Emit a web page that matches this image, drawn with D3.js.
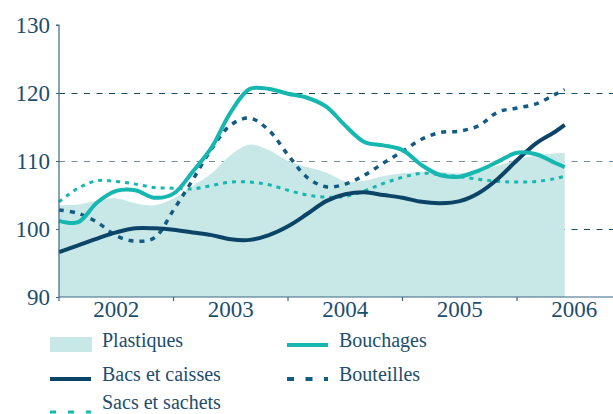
<!DOCTYPE html>
<html>
<head>
<meta charset="utf-8">
<script src="https://cdn.jsdelivr.net/npm/d3@7"></script>
<style>
  body { margin: 0; background: #fff; }
  text { font-family: "Liberation Serif", serif; fill: #1d4e6e; }
</style>
</head>
<body>
<div id="chart"></div>
<script>
const width = 613;
const height = 414;

// months since January 2002 (every two months, last point May 2006)
const months = [0, 2, 4, 6, 8, 10, 12, 14, 16, 18, 20, 22, 24, 26, 28, 30, 32, 34, 36, 38, 40, 42, 44, 46, 48, 50, 52, 53];

const plastiques = [103.5, 103.6, 104.2, 104.5, 103.8, 103.5, 104.5, 106.3, 108.2, 110.9, 112.4, 111.6, 110.0, 109.1,
  108.3, 107.0, 107.1, 107.8, 108.2, 108.4, 108.4, 108.2, 108.7, 109.3, 110.2, 110.8, 111.1, 111.2];
const bouchages = [101.2, 101.0, 103.9, 105.6, 105.7, 104.6, 105.2, 108.4, 112.0, 117.2, 120.6, 120.6, 119.9, 119.3,
  118.0, 115.2, 112.8, 112.3, 111.6, 109.4, 107.9, 107.7, 108.6, 109.9, 111.2, 111.0, 109.7, 109.1];
const bacs = [96.6, 97.6, 98.6, 99.5, 100.1, 100.1, 99.9, 99.5, 99.1, 98.5, 98.4, 99.1, 100.4, 102.2,
  104.1, 105.1, 105.4, 105.0, 104.6, 104.0, 103.8, 104.1, 105.3, 107.4, 110.1, 112.6, 114.3, 115.3];
const bouteilles = [102.8, 102.3, 101.0, 99.0, 98.2, 98.7, 102.8, 107.2, 111.8, 115.3, 116.3, 114.5, 110.9, 107.6,
  106.2, 106.6, 107.9, 109.7, 111.4, 113.2, 114.2, 114.4, 115.2, 117.2, 117.8, 118.4, 119.8, 120.5];
const sacs = [104.0, 106.0, 107.1, 107.0, 106.6, 106.1, 106.0, 105.9, 106.4, 106.9, 106.9, 106.5, 105.7, 105.0,
  104.7, 104.8, 105.6, 106.7, 107.6, 108.2, 108.0, 107.7, 107.3, 107.0, 106.9, 107.0, 107.4, 107.8];

const years = ["2002", "2003", "2004", "2005", "2006"];
const yTicks = [90, 100, 110, 120, 130];
const gridValues = [100, 110, 120];

const teal = "#16b6b1";
const navy = "#0c4468";
const blue = "#145b84";
const areaColor = "#c8e8e7";
const axisColor = "#3a6782";

const svg = d3.select("#chart").append("svg")
  .attr("width", width)
  .attr("height", height);

const x = d3.scaleLinear().domain([0, 60]).range([59, 631.5]);
const y = d3.scaleLinear().domain([90, 130]).range([297, 25]);
const axisRight = 613;

// grid lines (under the area)
svg.selectAll("line.grid")
  .data(gridValues)
  .enter()
  .append("line")
  .attr("class", "grid")
  .attr("x1", x(0))
  .attr("x2", axisRight)
  .attr("y1", d => Math.round(y(d)) + 0.5)
  .attr("y2", d => Math.round(y(d)) + 0.5)
  .attr("stroke", d => d === 110 ? "#6f8ea2" : "#174a6b")
  .attr("stroke-width", 1)
  .attr("stroke-dasharray", "6,6.5");

// Plastiques area
const area = d3.area()
  .x((d, i) => x(months[i]))
  .y0(y(90))
  .y1(d => y(d))
  .curve(d3.curveCatmullRom.alpha(0.5));

svg.append("path")
  .datum(plastiques)
  .attr("d", area)
  .attr("fill", areaColor);

const line = d3.line()
  .x((d, i) => x(months[i]))
  .y(d => y(d))
  .curve(d3.curveCatmullRom.alpha(0.5));

const series = [
  { name: "Sacs et sachets", values: sacs, color: teal, width: 3, dash: "4,5" },
  { name: "Bouteilles", values: bouteilles, color: blue, width: 3.5, dash: "5,6" },
  { name: "Bacs et caisses", values: bacs, color: navy, width: 4, dash: null },
  { name: "Bouchages", values: bouchages, color: teal, width: 4, dash: null }
];

series.forEach(s => {
  svg.append("path")
    .datum(s.values)
    .attr("d", line)
    .attr("fill", "none")
    .attr("stroke", s.color)
    .attr("stroke-width", s.width)
    .attr("stroke-dasharray", s.dash);
});

// axes
const yAxis = d3.axisLeft(y).tickValues(yTicks).tickSize(3).tickFormat(d3.format("d"));
const gy = svg.append("g").attr("transform", `translate(${x(0)},0)`).call(yAxis);
gy.select(".domain").attr("stroke", axisColor).attr("stroke-width", 1.2).attr("d", `M-3,${y(130)}H0V${y(90)}`);
gy.selectAll(".tick line").attr("stroke", axisColor);
gy.selectAll(".tick text")
  .attr("x", -9)
  .attr("dy", "0.33em")
  .style("font-family", "'Liberation Serif', serif")
  .style("font-size", "23px")
  .attr("fill", "#1d4e6e");

const gx = svg.append("g").attr("transform", `translate(0,${y(90)})`);
gx.append("line")
  .attr("x1", x(0))
  .attr("x2", axisRight)
  .attr("stroke", axisColor)
  .attr("stroke-width", 1.2);
gx.selectAll("line.tick")
  .data(years)
  .enter()
  .append("line")
  .attr("class", "tick")
  .attr("x1", (d, i) => x(i * 12))
  .attr("x2", (d, i) => x(i * 12))
  .attr("y1", 0)
  .attr("y2", 4)
  .attr("stroke", axisColor)
  .attr("stroke-width", 1.2);
gx.selectAll("text")
  .data(years)
  .enter()
  .append("text")
  .attr("x", (d, i) => x(i * 12 + 6))
  .attr("y", 20)
  .attr("text-anchor", "middle")
  .style("font-size", "23px")
  .text(d => d);

// legend
const legend = [
  { name: "Plastiques", type: "area", col: 0, row: 0 },
  { name: "Bouchages", color: teal, width: 4, dash: null, col: 1, row: 0 },
  { name: "Bacs et caisses", color: navy, width: 4, dash: null, col: 0, row: 1 },
  { name: "Bouteilles", color: blue, width: 4, dash: "7,11.5", col: 1, row: 1 },
  { name: "Sacs et sachets", color: teal, width: 3, dash: "6,12", col: 0, row: 2 }
];
const legendX = [50, 287];
const legendY = [345, 379, 407];

const lg = svg.selectAll("g.legend")
  .data(legend)
  .enter()
  .append("g")
  .attr("class", "legend")
  .attr("transform", d => `translate(${legendX[d.col]},${legendY[d.row]})`);

lg.each(function (d) {
  const g = d3.select(this);
  if (d.type === "area") {
    g.append("rect")
      .attr("x", 0)
      .attr("y", -8)
      .attr("width", 42)
      .attr("height", 15)
      .attr("fill", areaColor);
  } else {
    g.append("line")
      .attr("x1", 0)
      .attr("x2", 41)
      .attr("y1", d.row === 2 ? 5 : 0)
      .attr("y2", d.row === 2 ? 5 : 0)
      .attr("stroke", d.color)
      .attr("stroke-width", d.width)
      .attr("stroke-dasharray", d.dash);
  }
  g.append("text")
    .attr("x", 52)
    .attr("y", 2)
    .style("font-size", "20px")
    .text(d.name);
});
</script>
</body>
</html>
